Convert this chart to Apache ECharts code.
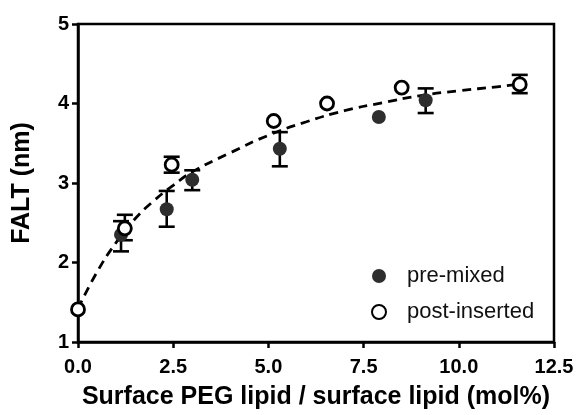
<!DOCTYPE html>
<html>
<head>
<meta charset="utf-8">
<script src="https://cdn.jsdelivr.net/npm/echarts@6/dist/echarts.min.js"></script>
<style>
  html, body { margin: 0; padding: 0; background: #fff; }
  #chart { width: 580px; height: 415px; }
</style>
</head>
<body>
<div id="chart"></div>
<script>
// pre-mixed (filled)
const preX = [1.13, 2.33, 3.0, 5.3, 7.9, 9.13];
const preY = [2.35, 2.67, 3.04, 3.43, 3.83, 4.04];
const preLo = [2.14, 2.45, 2.91, 3.21, 3.83, 3.88];
const preHi = [2.52, 2.90, 3.16, 3.64, 3.83, 4.19];

// post-inserted (open)
const postX = [0, 1.23, 2.46, 5.14, 6.54, 8.5, 11.6];
const postY = [1.41, 2.43, 3.23, 3.78, 4.0, 4.2, 4.24];
const postLo = [1.41, 2.28, 3.13, 3.78, 4.0, 4.2, 4.13];
const postHi = [1.41, 2.60, 3.33, 3.78, 4.0, 4.2, 4.36];

// dashed fit
const fitX = [0, 0.5, 1, 1.5, 2, 2.5, 3, 4, 5, 6, 7, 8, 9, 10, 11, 11.7];
const fitY = [1.42, 1.88, 2.25, 2.55, 2.78, 2.97, 3.14, 3.38, 3.6, 3.77, 3.91, 4.01, 4.1, 4.16, 4.21, 4.25];

const font = 'Liberation Sans, Arial, sans-serif';

function errData(xs, lo, hi) {
  return xs.map((x, i) => [x, lo[i], hi[i]]);
}

function errorBar(params, api) {
  const x = api.value(0);
  const lo = api.coord([x, api.value(1)]);
  const hi = api.coord([x, api.value(2)]);
  if (Math.abs(hi[1] - lo[1]) < 1) return null;
  const w = 8;
  const st = { stroke: '#000', lineWidth: 2.6 };
  return {
    type: 'group',
    children: [
      { type: 'line', shape: { x1: lo[0], y1: lo[1], x2: hi[0], y2: hi[1] }, style: st },
      { type: 'line', shape: { x1: lo[0] - w, y1: lo[1], x2: lo[0] + w, y2: lo[1] }, style: st },
      { type: 'line', shape: { x1: hi[0] - w, y1: hi[1], x2: hi[0] + w, y2: hi[1] }, style: st },
    ],
  };
}

const chart = echarts.init(document.getElementById('chart'));
chart.setOption({
  animation: false,
  grid: {
    left: 78, right: 26, top: 24, bottom: 72,
    show: true, borderColor: '#000', borderWidth: 2.5,
  },
  legend: {
    orient: 'vertical',
    left: 366, top: 260,
    itemWidth: 14, itemHeight: 14, itemGap: 14,
    textStyle: { fontFamily: font, fontSize: 22, color: '#111', padding: [0, 0, 0, 16] },
    data: ['pre-mixed', 'post-inserted'],
  },
  xAxis: {
    type: 'value', min: 0, max: 12.5, interval: 2.5,
    name: 'Surface PEG lipid / surface lipid (mol%)',
    nameLocation: 'middle', nameGap: 43,
    nameTextStyle: { fontFamily: font, fontSize: 25, fontWeight: 'bold', color: '#000' },
    splitLine: { show: false },
    axisLine: { lineStyle: { color: '#000', width: 2.5 } },
    axisTick: { inside: false, length: 6, lineStyle: { color: '#000', width: 2.5 } },
    axisLabel: {
      margin: 15, fontFamily: font, fontSize: 20, fontWeight: 'bold', color: '#000',
      formatter: (v) => v.toFixed(1),
    },
  },
  yAxis: {
    type: 'value', min: 1, max: 5, interval: 1,
    name: 'FALT (nm)',
    nameLocation: 'middle', nameGap: 43, nameRotate: 90,
    nameTextStyle: { fontFamily: font, fontSize: 25, fontWeight: 'bold', color: '#000' },
    splitLine: { show: false },
    axisLine: { lineStyle: { color: '#000', width: 2.5 } },
    axisTick: { inside: false, length: 6, lineStyle: { color: '#000', width: 2.5 } },
    axisLabel: { margin: 9, fontFamily: font, fontSize: 20, fontWeight: 'bold', color: '#000' },
  },
  series: [
    {
      name: 'fit', type: 'line', smooth: true, symbol: 'none', silent: true,
      data: fitX.map((x, i) => [x, fitY[i]]),
      lineStyle: { color: '#000', width: 2.8, type: [9, 6] },
      z: 1,
    },
    {
      type: 'custom', renderItem: errorBar, data: errData(preX, preLo, preHi),
      encode: { x: 0, y: [1, 2] }, z: 2, silent: true,
    },
    {
      type: 'custom', renderItem: errorBar, data: errData(postX, postLo, postHi),
      encode: { x: 0, y: [1, 2] }, z: 2, silent: true,
    },
    {
      name: 'pre-mixed', type: 'scatter', symbol: 'circle', symbolSize: 14,
      data: preX.map((x, i) => [x, preY[i]]),
      itemStyle: { color: '#2e2e2e', opacity: 1 },
      z: 3,
    },
    {
      name: 'post-inserted', type: 'scatter', symbol: 'circle', symbolSize: 13,
      data: postX.map((x, i) => [x, postY[i]]),
      itemStyle: { color: '#fff', borderColor: '#000', borderWidth: 2.8, opacity: 1 },
      z: 4,
    },
  ],
});
</script>
</body>
</html>
